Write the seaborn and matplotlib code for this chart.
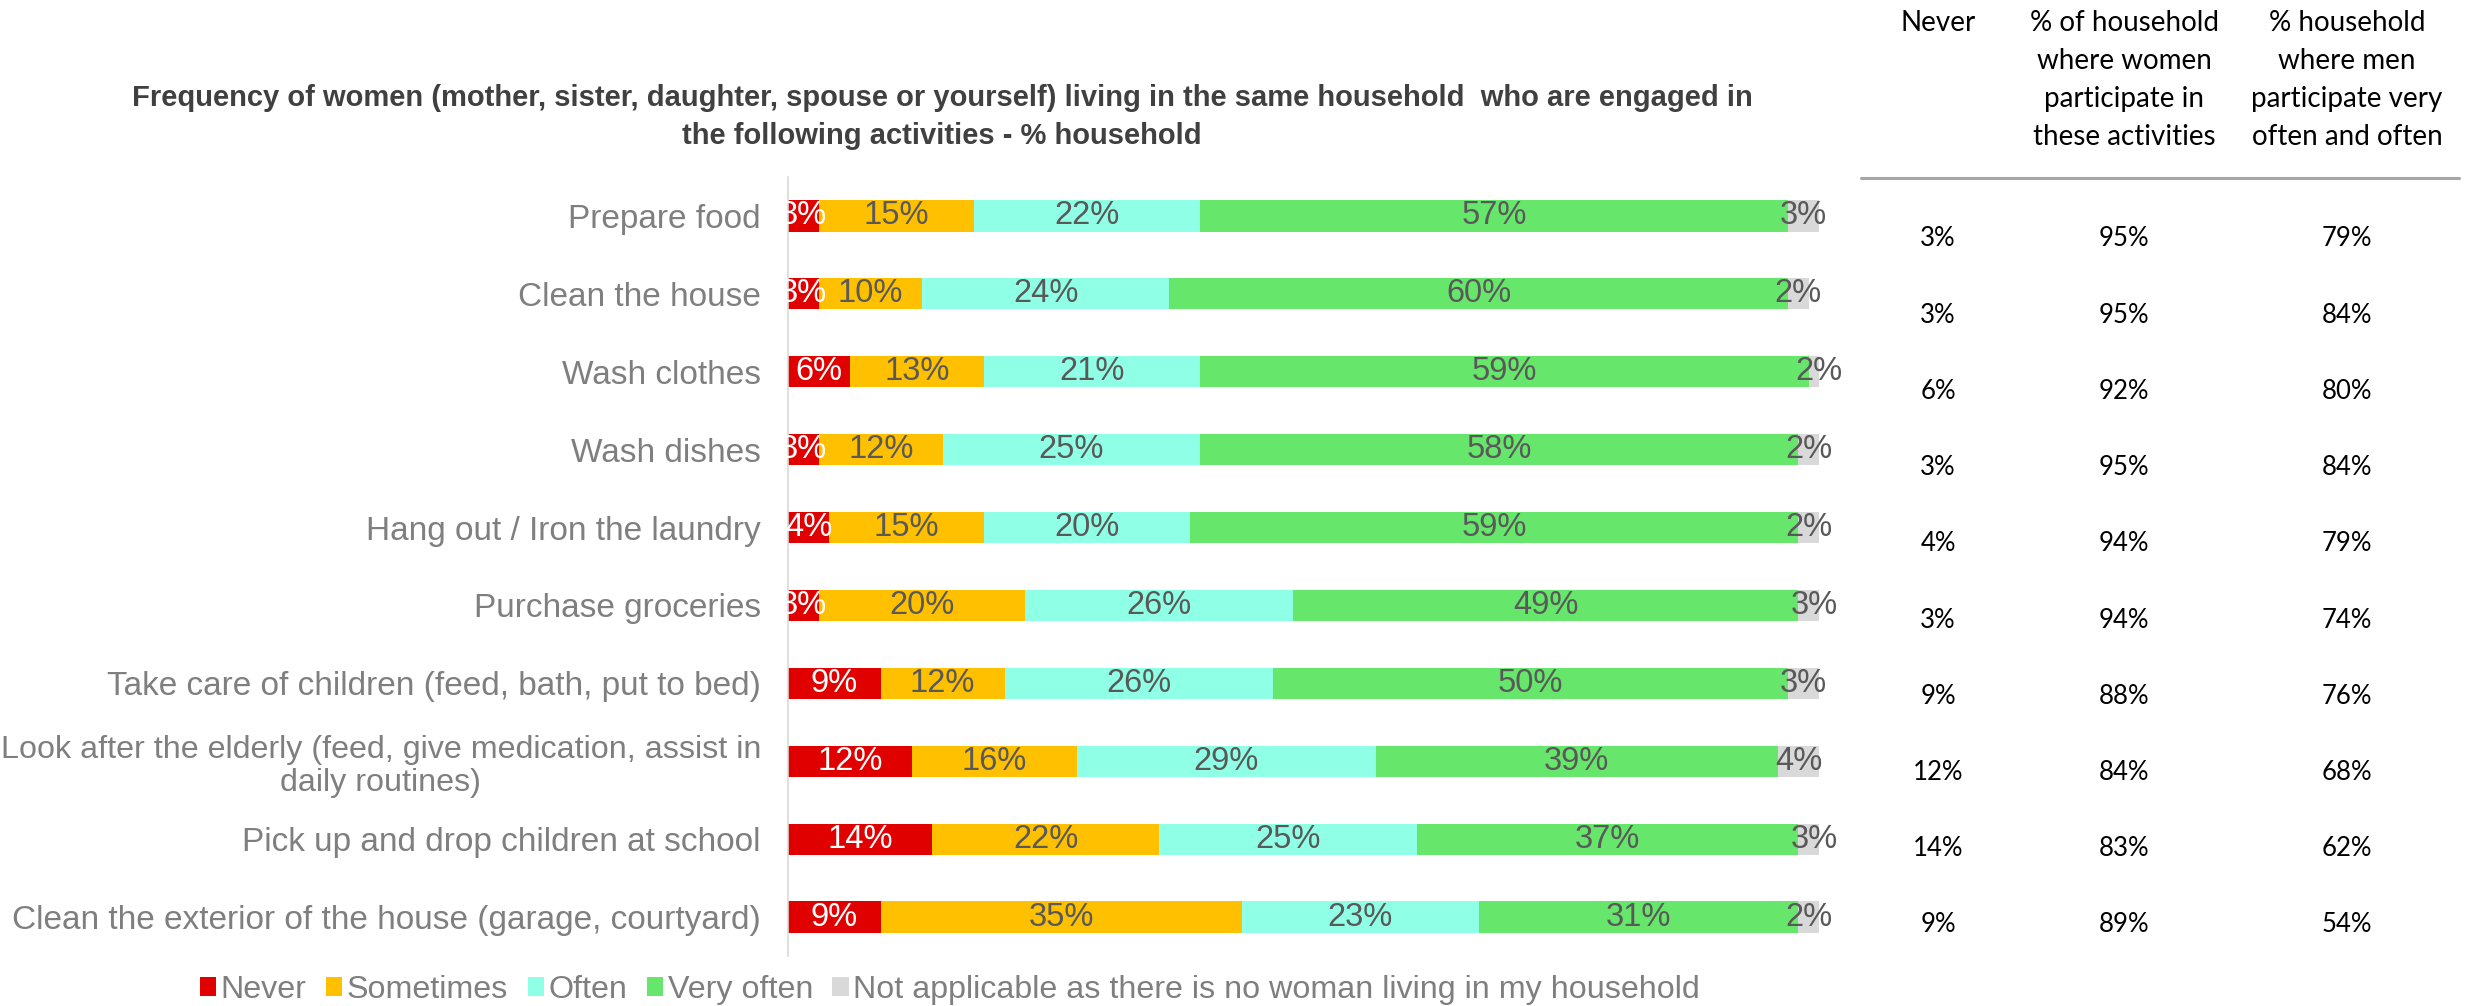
import numpy as np
import pandas as pd
import matplotlib
matplotlib.use("Agg")
import matplotlib.pyplot as plt
from matplotlib.patches import Patch
from matplotlib.lines import Line2D
import seaborn as sns

# ---- data ----
activities = [
    "Prepare food",
    "Clean the house",
    "Wash clothes",
    "Wash dishes",
    "Hang out / Iron the laundry",
    "Purchase groceries",
    "Take care of children (feed, bath, put to bed)",
    "Look after the elderly (feed, give medication, assist in\ndaily routines)",
    "Pick up and drop children at school",
    "Clean the exterior of the house (garage, courtyard)",
]
never = [3, 3, 6, 3, 4, 3, 9, 12, 14, 9]
sometimes = [15, 10, 13, 12, 15, 20, 12, 16, 22, 35]
often = [22, 24, 21, 25, 20, 26, 26, 29, 25, 23]
very_often = [57, 60, 59, 58, 59, 49, 50, 39, 37, 31]
not_applicable = [3, 2, 2, 2, 2, 3, 3, 4, 3, 2]

series_names = ["Never", "Sometimes", "Often", "Very often",
                "Not applicable as there is no woman living in my household"]

table_never = [3, 3, 6, 3, 4, 3, 9, 12, 14, 9]
table_women = [95, 95, 92, 95, 94, 94, 88, 84, 83, 89]
table_men = [79, 84, 80, 84, 79, 74, 76, 68, 62, 54]
table_headers = ["Never",
                 "% of household\nwhere women\nparticipate in\nthese activities",
                 "% household\nwhere men\nparticipate very\noften and often"]

# ---- style ----
colors = ["#E00000", "#FFC000", "#8FFFE5", "#66E66A", "#D9D9D9"]
label_gray = "#7F7F7F"
value_gray = "#595959"

sns.set_theme(style="white")
plt.rcParams["font.family"] = ["Liberation Sans", "DejaVu Sans"]

W, H = 2471, 1006
fig = plt.figure(figsize=(W / 100, H / 100), dpi=100)
ax = fig.add_axes([788 / W, 1 - 956 / H, (1819 - 788) / W, (956 - 177) / H])

df = pd.DataFrame({"activity": activities, "Never": never, "Sometimes": sometimes,
                   "Often": often, "Very often": very_often,
                   series_names[4]: not_applicable})
vals = df[series_names].to_numpy(dtype=float)
cum = np.cumsum(vals, axis=1)

# stacked bars: draw cumulative totals from the outermost segment inward
for k in reversed(range(len(series_names))):
    sns.barplot(x=cum[:, k], y=df["activity"], orient="h", color=colors[k],
                saturation=1, width=0.4, ax=ax, linewidth=0)

for i in range(len(activities)):
    for k in range(len(series_names)):
        v = vals[i, k]
        mid = cum[i, k] - v / 2
        ax.text(mid, i, f"{v:.0f}%", ha="center", va="center", fontsize=23.5,
                color="white" if k == 0 else value_gray)

ax.set_xlim(0, 100)
ax.set_ylim(9.5, -0.5)
ax.set_xlabel("")
ax.set_ylabel("")
ax.set_xticks([])
for s in ["top", "right", "bottom"]:
    ax.spines[s].set_visible(False)
ax.spines["left"].set_color("#D9D9D9")
ax.spines["left"].set_linewidth(1.2)
ax.tick_params(axis="y", length=0, pad=19.5, labelsize=24, labelcolor=label_gray)
for t in ax.get_yticklabels():
    t.set_multialignment("center")
    t.set_linespacing(1.15)
    if "\n" in t.get_text():
        t.set_fontsize(23.2)

# title
fig.text(942 / W, 1 - 117 / H,
         "Frequency of women (mother, sister, daughter, spouse or yourself) living in the same household  who are engaged in\nthe following activities - % household",
         ha="center", va="center", fontsize=21, fontweight="bold", color="#404040",
         linespacing=1.5)

# legend
handles = [Patch(facecolor=c, edgecolor="none") for c in colors]
fig.legend(handles, series_names, loc="center", bbox_to_anchor=(950 / W, 1 - 990 / H),
           ncol=5, frameon=False, fontsize=23.2, labelcolor=label_gray,
           handlelength=0.5, handleheight=0.5, handletextpad=0.15,
           columnspacing=0.6, borderpad=0, borderaxespad=0)

# side table
col_x = [1938, 2124, 2347]
table_font = ["Lato", "DejaVu Sans"]
for x, head in zip(col_x, table_headers):
    fig.text(x / W, 1 - 10 / H, head, ha="center", va="top", fontsize=20,
             family=table_font, color="black", linespacing=1.57)
fig.add_artist(Line2D([1861 / W, 2459 / W], [1 - 178 / H] * 2,
                      color="#A6A6A6", lw=2.2))
for i in range(len(activities)):
    y = 1 - (239 + i * 76.2) / H
    for x, col in zip(col_x, [table_never, table_women, table_men]):
        fig.text(x / W, y, f"{col[i]}%", ha="center", va="center", fontsize=18.5,
                 family=table_font, color="black")

fig.savefig("out.png", dpi=100)
